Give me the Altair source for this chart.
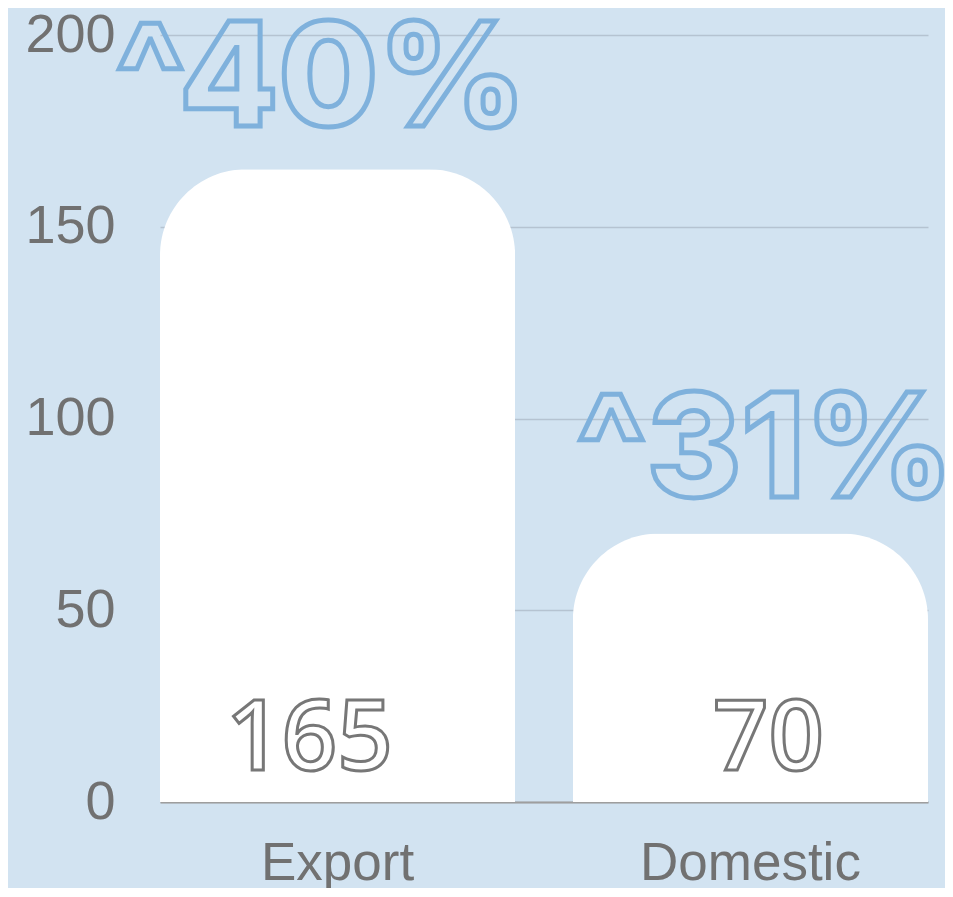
import altair as alt
import pandas as pd

categories = ["Export", "Domestic"]
values = [165, 70]
growth_labels = ["^40%", "^31%"]
y_ticks = [0, 50, 100, 150, 200]

df = pd.DataFrame({"category": categories, "value": values, "growth": growth_labels})

BG = "#d2e3f1"
LABEL_GREY = "#717171"

x_enc = alt.X(
    "category:N", sort=categories, title=None,
    scale=alt.Scale(paddingInner=0.14, paddingOuter=0),
    axis=alt.Axis(labelAngle=0, labelFontSize=53, labelColor=LABEL_GREY,
                  labelFont="Liberation Sans", labelPadding=35, ticks=False,
                  labelLimit=0, domainColor="#9e9e9e", domainWidth=2, grid=False),
)
y_enc = alt.Y(
    "value:Q", title=None, scale=alt.Scale(domain=[0, 200]),
    axis=alt.Axis(values=y_ticks, labelFontSize=54, labelColor=LABEL_GREY,
                  labelFont="Liberation Sans", labelPadding=45, ticks=False,
                  domain=False, gridColor="#b5c3d1", gridWidth=1.5),
)

base = alt.Chart(df).encode(x=x_enc)

bars = base.mark_bar(color="white", cornerRadiusTopLeft=86,
                     cornerRadiusTopRight=86).encode(y=y_enc)


def value_label(cat, dx):
    return base.transform_filter(alt.datum.category == cat).mark_text(
        font="Open Sans", fontWeight=600, fontSize=97, fill="white",
        stroke="#777777", strokeWidth=3, dx=dx, dy=-32,
        baseline="alphabetic", align="center",
    ).encode(y=alt.datum(0), text="value:Q")


def growth_label(cat, dx, dy):
    return base.transform_filter(alt.datum.category == cat).mark_text(
        font="Inter", fontWeight=800, fontSize=144, fillOpacity=0,
        stroke="#7fb1dc", strokeWidth=5, dx=dx, dy=dy,
        baseline="alphabetic", align="center",
    ).encode(y="value:Q", text="growth:N")


chart = alt.layer(
    bars,
    value_label("Export", -28),
    value_label("Domestic", 18),
    growth_label("Export", -17, -43),
    growth_label("Domestic", 14, -37),
).properties(
    width=768, height=767,
    autosize=alt.AutoSizeParams(type="none"),
    padding={"left": 152, "top": 27, "right": 17, "bottom": 86},
    background=BG,
).configure_view(stroke=None)

chart.save("out.html", embed_options={"renderer": "svg", "actions": False})
